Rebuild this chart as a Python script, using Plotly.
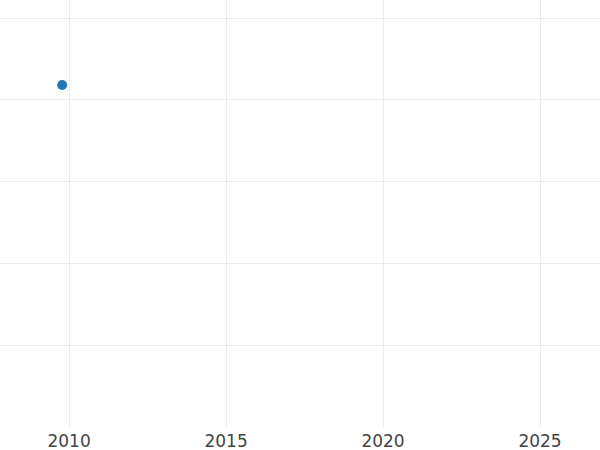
import plotly.graph_objects as go

years = [2009.78]
values = [3.18]

fig = go.Figure(go.Scatter(x=years, y=values, mode='markers',
                           marker=dict(size=10, color='#1f77b4'),
                           showlegend=False))

fig.update_layout(
    width=600, height=450,
    margin=dict(l=0, r=0, t=0, b=23),
    paper_bgcolor='white', plot_bgcolor='white',
    font=dict(family='DejaVu Sans', size=17, color='#444'),
    xaxis=dict(range=[2007.8, 2026.91], tick0=2010, dtick=5,
               showgrid=True, gridcolor='#ebebeb', gridwidth=1.2,
               zeroline=False, showline=False, ticks='', ticklabelstandoff=2),
    yaxis=dict(range=[-1.0, 4.22], tick0=0, dtick=1,
               showgrid=True, gridcolor='#ebebeb', gridwidth=1.2,
               zeroline=False, showline=False, showticklabels=False),
)

# the page's default body margin would shift the chart by 8px
fig.write_html("out.html", config={'displayModeBar': False},
               post_script="document.body.style.margin='0';")
